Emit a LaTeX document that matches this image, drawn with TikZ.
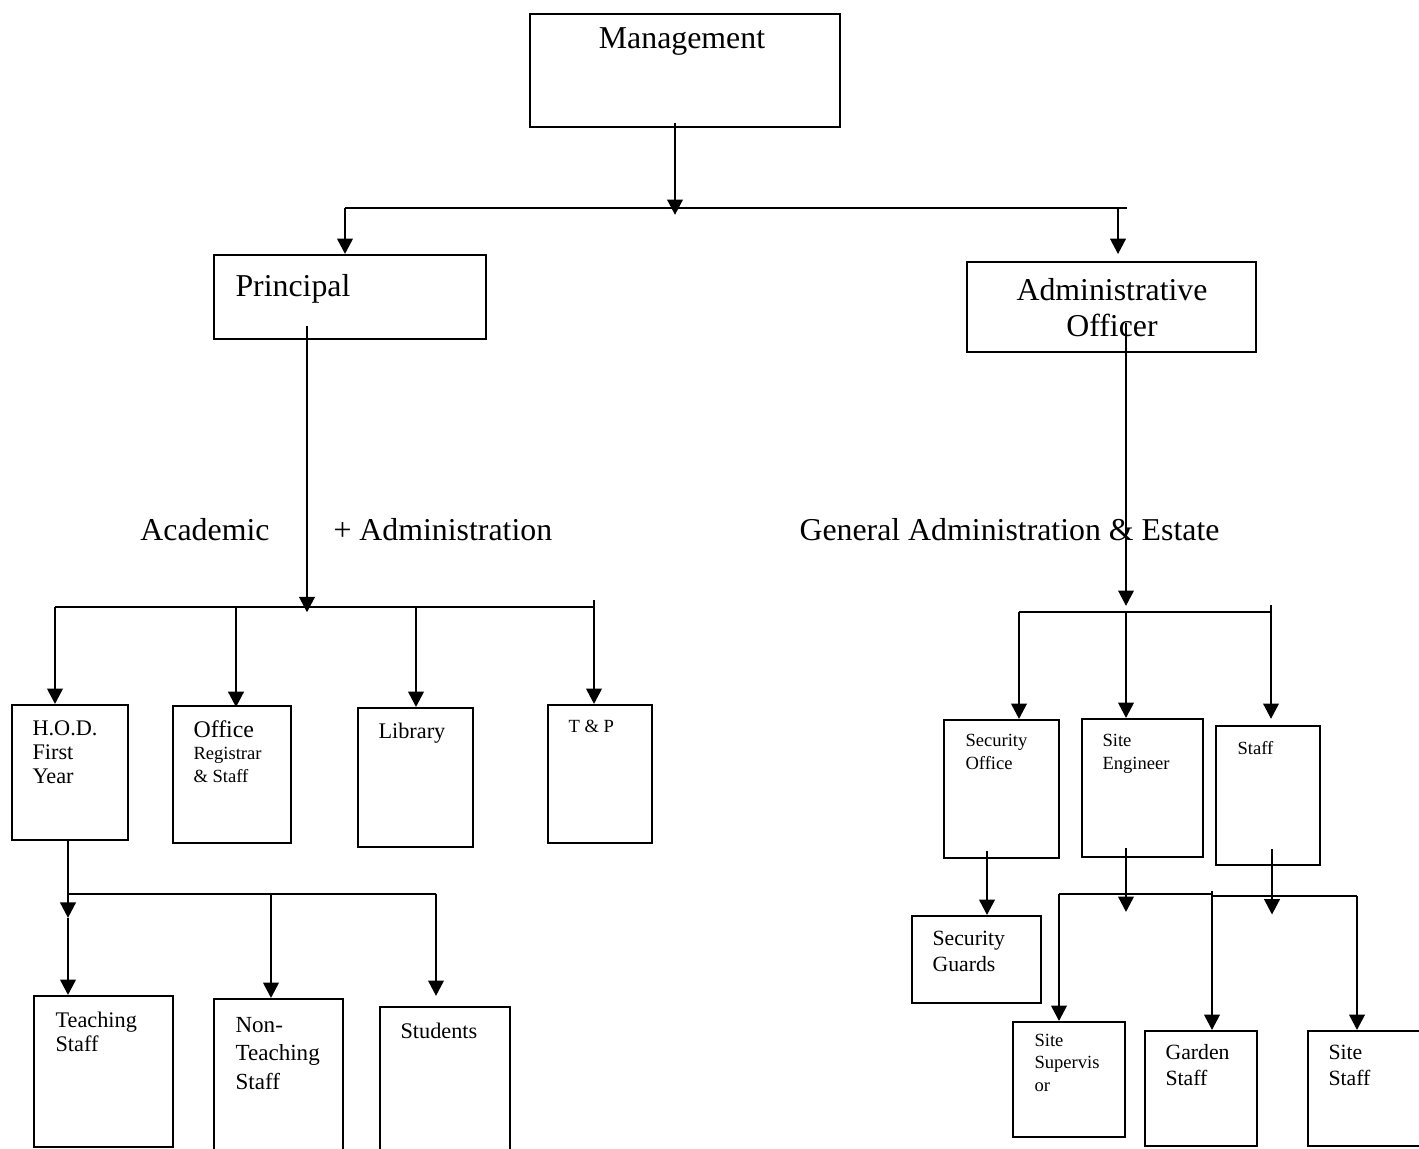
\documentclass[tikz,border=0pt]{standalone}
\usepackage{fontspec}
\setmainfont{Liberation Serif}
\usetikzlibrary{arrows.meta,fit,calc}
\begin{document}
\begin{tikzpicture}[x=0.377pt,y=-0.377pt,
  box/.style={draw, line width=0.75pt, inner sep=0pt},
  conn/.style={line width=1pt},
  hline/.style={line width=0.8pt},
  arr/.style={conn, -{Triangle[length=5.8pt,width=5.8pt]}},
  big/.style={font=\fontsize{12}{13.9}\selectfont, inner sep=0pt},
  med/.style={font=\fontsize{8.4}{9}\selectfont, inner sep=0pt, align=left, anchor=base west},
  medb/.style={font=\fontsize{8.2}{9.6}\selectfont, inner sep=0pt, align=left, anchor=base west},
  sml/.style={font=\fontsize{7}{8.3}\selectfont, inner sep=0pt, align=left, anchor=base west}]
\clip (0,0) rectangle (1419,1149);
\fill[white] (0,0) rectangle (1419,1149);
% boxes
\node[box, fit={(530,14)(840,127)}] (mgmt) {};
\node[box, fit={(214,255)(486,339)}] (prin) {};
\node[box, fit={(967,262)(1256,352)}] (admin) {};
\node[box, fit={(12,705)(128,840)}] (hod) {};
\node[box, fit={(173,706)(291,843)}] (office) {};
\node[box, fit={(358,708)(473,847)}] (lib) {};
\node[box, fit={(548,705)(652,843)}] (tp) {};
\node[box, fit={(34,996)(173,1147)}] (teach) {};
\node[box, fit={(214,999)(343,1155)}] (nonteach) {};
\node[box, fit={(380,1007)(510,1155)}] (stud) {};
\node[box, fit={(944,720)(1059,858)}] (secoff) {};
\node[box, fit={(1082,719)(1203,857)}] (siteeng) {};
\node[box, fit={(1216,726)(1320,865)}] (staff) {};
\node[box, fit={(912,916)(1041,1003)}] (guards) {};
\node[box, fit={(1013,1022)(1125,1137)}] (supv) {};
\node[box, fit={(1145,1031)(1257,1146)}] (garden) {};
\node[box, fit={(1308,1031)(1430,1146)}] (sitestaff) {};
% texts (multi-line nodes: anchor at baseline of last line)
\node[big, anchor=base] (tMgmt) at (682,49) {Management};
\node[big, anchor=base west] (tPrin) at (235,297) {Principal};
\node[big, anchor=base, align=center] (tAdmin) at (1112,337) {Administrative\\Officer};
\node[big, anchor=base] (tAcad) at (205,540) {Academic};
\node[big, anchor=base west] (tPlus) at (333,540) {+ Administration};
\node[big, anchor=base west] (tGen) at (799,540) {General Administration \& Estate};
\node[med] (tHod) at (32,783) {H.O.D.\\First\\Year};
\node[sml] (tOffice) at (193,782) {{\fontsize{9}{9}\selectfont Office}\\Registrar\\\& Staff};
\node[med] (tLib) at (378,738) {Library};
\node[sml] (tTP) at (568,732) {T \& P};
\node[med] (tTeach) at (55,1051) {Teaching\\Staff};
\node[font=\fontsize{8.7}{10.6}\selectfont, inner sep=0pt, align=left, anchor=base west] (tNon) at (235,1089) {Non-\\Teaching\\Staff};
\node[med] (tStud) at (400,1038) {Students};
\node[sml] (tSec) at (965,769) {Security\\Office};
\node[sml] (tEng) at (1102,769) {Site\\Engineer};
\node[sml] (tStaff) at (1237,754) {Staff};
\node[medb] (tGuards) at (932,971) {Security\\Guards};
\node[sml] (tSupv) at (1034,1091) {Site\\Supervis\\or};
\node[medb] (tGarden) at (1165,1085) {Garden\\Staff};
\node[medb] (tSite) at (1328,1085) {Site\\Staff};
% junctions
\coordinate (jTop) at (675,208);
\coordinate (jTopL) at (345,208);
\coordinate (jTopR) at (1127,208);
\coordinate (jTopA) at (1118,208);
\coordinate (jP) at (307,607);
\coordinate (jPL) at (55,607);
\coordinate (jPo) at (236,607);
\coordinate (jPl) at (416,607);
\coordinate (jPR) at (594,607);
\coordinate (jA) at (1126,612);
\coordinate (jAL) at (1019,612);
\coordinate (jAR) at (1271,612);
\coordinate (jH) at (68,894);
\coordinate (jHm) at (271,894);
\coordinate (jHR) at (436,894);
\coordinate (xS) at (987,0);
\coordinate (jE) at (1126,895);
\coordinate (jF) at (1272,896);
\coordinate (jBL) at (1059,894);
\coordinate (jBM) at (1212,894);
\coordinate (jBM2) at (1212,896);
\coordinate (jBR) at (1357,896);
% connectors: top
\draw[arr] ([yshift=2pt]mgmt.south -| jTop) -- ([yshift=-2.6pt]jTop);
\draw[hline] (jTopL) -- (jTopR);
\draw[arr] (jTopL) -- (jTopL |- prin.north);
\draw[arr, shorten >=2.6pt] (jTopA) -- (jTopA |- admin.north);
% principal branch
\draw[arr] ([yshift=5.3pt]prin.south -| jP) -- ([yshift=-2pt]jP);
\draw[hline] (jPL) -- (jPR);
\draw[arr] (jPL) -- (jPL |- hod.north);
\draw[arr] (jPo) -- ([yshift=-0.8pt]jPo |- office.north);
\draw[arr] (jPl) -- (jPl |- lib.north);
\draw[arr] ([yshift=2.6pt]jPR) -- (jPR |- tp.north);
% admin branch
\draw[arr] ([yshift=11.3pt]admin.south -| jA) -- ([yshift=2.3pt]jA);
\draw[arr] (jA) -- (jA |- siteeng.north);
\draw[hline] (jAL) -- (jAR);
\draw[arr] (jAL) -- (jAL |- secoff.north);
\draw[arr, shorten >=2.3pt] ([yshift=2.6pt]jAR) -- (jAR |- staff.north);
% HOD branch
\draw[arr] (hod.south -| jH) -- ([yshift=-9pt]jH);
\draw[arr] ([yshift=-9pt]jH) -- (jH |- teach.north);
\draw[hline] (jH) -- (jHR);
\draw[arr] (jHm) -- (jHm |- nonteach.north);
\draw[arr, shorten >=3.8pt] (jHR) -- (jHR |- stud.north);
% estate branch
\draw[arr] ([yshift=3pt]secoff.south -| xS) -- (xS |- guards.north);
\draw[arr] ([yshift=3.8pt]siteeng.south -| jE) -- ([yshift=-6.4pt]jE);
\draw[arr] ([yshift=6.4pt]staff.south -| jF) -- ([yshift=-7pt]jF);
\draw[hline] (jBL) -- (jBM);
\draw[hline] (jBM2) -- (jBR);
\draw[arr] (jBL) -- (jBL |- supv.north);
\draw[arr] ([yshift=1pt]jBM) -- (jBM |- garden.north);
\draw[arr] (jBR) -- (jBR |- sitestaff.north);
\end{tikzpicture}
\end{document}
